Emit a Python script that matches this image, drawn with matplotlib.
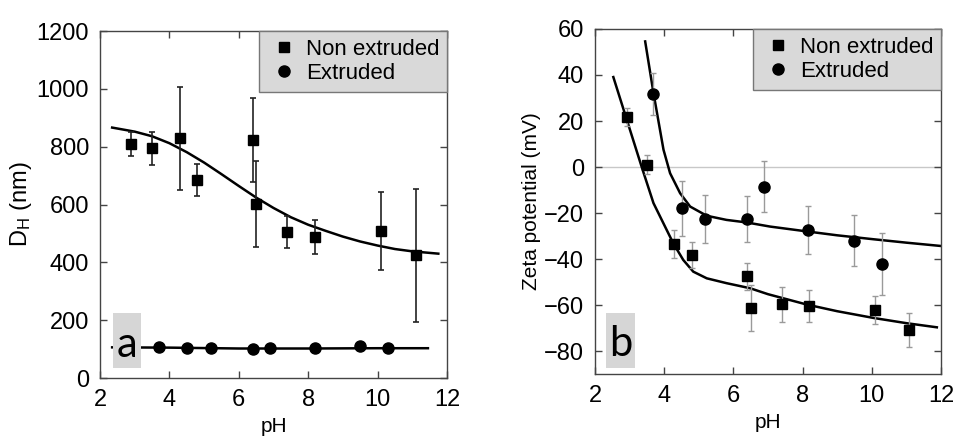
import numpy as np
import matplotlib
matplotlib.use("Agg")
import matplotlib.pyplot as plt
from matplotlib.patches import Rectangle

plt.rcParams['font.family'] = ['Liberation Sans', 'DejaVu Sans']
plt.rcParams['mathtext.default'] = 'regular'

# (a) hydrodynamic diameter
ph_ne_a = [2.9, 3.5, 4.3, 4.8, 6.4, 6.5, 7.4, 8.2, 10.1, 11.1]
dh_ne = [809, 794, 829, 685, 823, 602, 506, 489, 509, 425]
dh_ne_err = [40, 58, 179, 55, 145, 148, 55, 59, 134, 230]
ph_ex_a = [3.7, 4.5, 5.2, 6.4, 6.9, 8.2, 9.5, 10.3]
dh_ex = [108, 104, 104, 101, 104, 104, 112, 104]

fit_ne_a_x = [2.35, 3.0, 3.5, 4.0, 4.5, 5.0, 5.5, 6.0, 6.5, 7.0, 7.5, 8.0, 8.5, 9.0, 9.5, 10.0, 10.5, 11.0, 11.75]
fit_ne_a_y = [866, 852, 836, 812, 781, 745, 705, 664, 624, 588, 556, 530, 509, 489, 472, 458, 446, 438, 430]
fit_ex_a_x = [2.35, 4.0, 6.0, 8.0, 10.0, 11.45]
fit_ex_a_y = [106, 105, 102, 102, 103, 103]

# (b) zeta potential
ph_ne_b = [2.92, 3.51, 4.29, 4.79, 6.4, 6.5, 7.4, 8.18, 10.09, 11.08]
zeta_ne = [21.7, 1.0, -33.4, -38.2, -47.6, -61.4, -59.7, -60.4, -62.1, -70.8]
zeta_ne_err = [4, 4, 6, 5.8, 6, 10, 7.7, 7, 6, 7.5]
ph_ex_b = [3.69, 4.5, 5.18, 6.38, 6.88, 8.17, 9.49, 10.29]
zeta_ex = [31.8, -17.9, -22.5, -22.7, -8.6, -27.3, -32.0, -42.3]
zeta_ex_err = [9, 12, 10.4, 10, 11, 10.5, 11, 13.4]

fit_ne_b_x = [2.53, 2.92, 3.35, 3.69, 4.07, 4.26, 4.55, 4.84, 5.23, 5.8, 6.48, 7.0, 8.12, 9.0, 10.04, 11.0, 11.88]
fit_ne_b_y = [39.1, 20.5, 0.0, -15.7, -27.3, -33.1, -40.4, -45.5, -48.4, -50.5, -52.7, -55.3, -59.8, -62.7, -65.6, -67.9, -69.7]
fit_ex_b_x = [3.45, 3.69, 3.98, 4.17, 4.46, 4.75, 5.23, 5.8, 6.38, 7.06, 8.12, 9.0, 10.04, 11.0, 11.97]
fit_ex_b_y = [54.6, 32.2, 7.5, -2.7, -11.4, -17.2, -21.2, -23.0, -24.1, -25.9, -28.0, -29.7, -31.4, -32.9, -34.3]

fig = plt.figure(figsize=(9.55, 4.36), dpi=100)
ax1 = fig.add_axes([100/955, 1-378/436, 347/955, 347/436])
ax2 = fig.add_axes([595/955, 1-374/436, 346/955, 345/436])

spine_col = '#444444'
for ax in (ax1, ax2):
    for s in ax.spines.values():
        s.set_color(spine_col)
        s.set_linewidth(1.0)
    ax.tick_params(direction='in', top=True, right=True, length=5, width=1,
                   color=spine_col, labelsize=17, pad=8)
    ax.set_xlim(2, 12)
    ax.set_xticks([2, 4, 6, 8, 10, 12])
    ax.set_xlabel('pH', fontsize=15, labelpad=4)

# panel a
sq_a = ax1.errorbar(ph_ne_a, dh_ne, yerr=dh_ne_err, fmt='s', color='black', ms=7,
                    ecolor='#222222', elinewidth=1.2, capsize=2.5, capthick=1.2, zorder=3)
ci_a, = ax1.plot(ph_ex_a, dh_ex, 'o', color='black', ms=8, zorder=3)
ax1.plot(fit_ne_a_x, fit_ne_a_y, color='black', lw=1.8, zorder=2)
ax1.plot(fit_ex_a_x, fit_ex_a_y, color='black', lw=1.8, zorder=2)
ax1.set_ylim(0, 1200)
ax1.set_yticks(range(0, 1201, 200))
ax1.set_ylabel('D$_H$ (nm)', fontsize=17, labelpad=2)
ax1.add_patch(Rectangle((2.38, 35), 0.8, 190, facecolor='#d6d6d6', edgecolor='none', zorder=4))
ax1.text(2.78, 115, 'a', fontsize=30, family='Lato', ha='center', va='center', zorder=5)

# panel b
ax2.axhline(0, color='#c8c8c8', lw=1, zorder=1)
sq_b = ax2.errorbar(ph_ne_b, zeta_ne, yerr=zeta_ne_err, fmt='s', color='black', ms=7,
                    ecolor='#9a9a9a', elinewidth=1, capsize=2, capthick=1, zorder=3)
ci_b = ax2.errorbar(ph_ex_b, zeta_ex, yerr=zeta_ex_err, fmt='o', color='black', ms=8,
                    ecolor='#9a9a9a', elinewidth=1, capsize=2, capthick=1, zorder=3)
ax2.plot(fit_ne_b_x, fit_ne_b_y, color='black', lw=1.8, zorder=2)
ax2.plot(fit_ex_b_x, fit_ex_b_y, color='black', lw=1.8, zorder=2)
ax2.set_ylim(-90, 60)
ax2.set_yticks(range(-80, 61, 20))
ax2.set_ylabel('Zeta potential (mV)', fontsize=15, labelpad=2)
ax2.add_patch(Rectangle((2.32, -87.5), 0.84, 24, facecolor='#d6d6d6', edgecolor='none', zorder=4))
ax2.text(2.75, -77, 'b', fontsize=30, family='Lato', ha='center', va='center', zorder=5)

for ax, handles in ((ax1, [sq_a[0], ci_a]), (ax2, [sq_b[0], ci_b[0]])):
    leg = ax.legend(handles, ['Non extruded', 'Extruded'], loc='upper right', fontsize=16,
                    borderaxespad=0, fancybox=False, framealpha=1, handlelength=1.5,
                    handletextpad=0.25, borderpad=0.35, labelspacing=0.15)
    leg.get_frame().set_facecolor('#d9d9d9')
    leg.get_frame().set_edgecolor('#777777')
    leg.get_frame().set_linewidth(1)

fig.savefig('out.png', dpi=100)
